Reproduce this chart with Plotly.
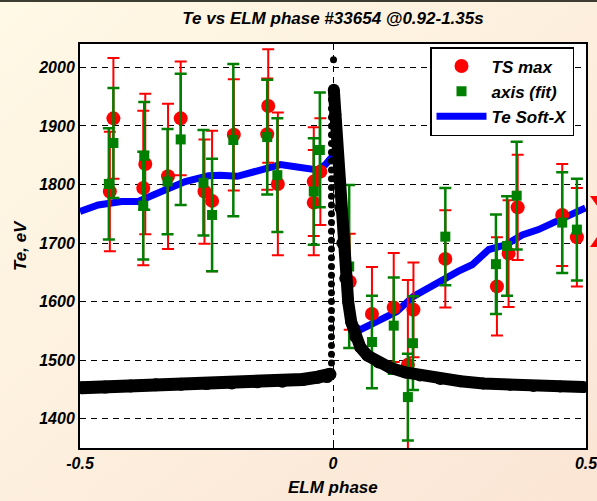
import base64
import plotly.graph_objects as go

# ---------------- data ----------------
ts_x = [-0.441, -0.434, -0.371, -0.375, -0.326, -0.301, -0.254, -0.239, -0.196,
        -0.128, -0.130, -0.109, -0.038, -0.038, -0.025, 0.033, 0.077, 0.120,
        0.148, 0.159, 0.222, 0.324, 0.347, 0.365, 0.453, 0.482]
ts_y = [1788, 1913, 1835, 1794, 1814, 1913, 1788, 1772, 1885,
        1934, 1886, 1801, 1805, 1769, 1822, 1634, 1579, 1590,
        1492, 1586, 1673, 1626, 1682, 1761, 1748, 1710]
ts_err = [102, 103, 120, 132, 124, 97, 89, 120, 95,
          97, 95, 122, 93, 90, 91, 82, 80, 93,
          145, 81, 83, 84, 91, 90, 87, 84]

ax_x = [-0.443, -0.434, -0.373, -0.375, -0.327, -0.301, -0.256, -0.239, -0.197,
        -0.130, -0.110, -0.038, -0.026, 0.032, 0.077, 0.120, 0.148, 0.158,
        0.222, 0.322, 0.344, 0.363, 0.453, 0.482]
ax_y = [1801, 1871, 1849, 1764, 1805, 1877, 1803, 1748, 1876,
        1881, 1816, 1788, 1859, 1660, 1531, 1559, 1437, 1529,
        1711, 1664, 1695, 1781, 1735, 1723]
ax_err = [95, 94, 92, 92, 90, 112, 90, 96, 130,
          98, 97, 91, 98, 139, 79, 82, 74, 80,
          83, 85, 85, 92, 86, 87]

sx_x = [-0.500, -0.464, -0.418, -0.385, -0.339, -0.292, -0.246, -0.223, -0.189,
        -0.144, -0.104, -0.071, -0.031, -0.015, -0.001, 0.008, 0.015, 0.024,
        0.030, 0.036, 0.046, 0.054, 0.093, 0.126, 0.159, 0.192, 0.225, 0.248,
        0.275, 0.308, 0.341, 0.374, 0.406, 0.439, 0.472, 0.499]
sx_y = [1754, 1765, 1771, 1771, 1788, 1805, 1815, 1816, 1814,
        1825, 1834, 1830, 1825, 1834, 1848, 1850, 1760, 1640,
        1600, 1568, 1556, 1552, 1569, 1583, 1609, 1626, 1643, 1652,
        1663, 1689, 1697, 1714, 1723, 1737, 1751, 1760]

pre_x = [-0.497, -0.45, -0.40, -0.35, -0.30, -0.25, -0.20, -0.15, -0.10,
         -0.06, -0.03, -0.012, -0.006]
pre_y = [1453, 1454, 1456, 1458, 1459, 1460, 1461, 1463, 1464,
         1467, 1471, 1472, 1476]

col_x = [-0.003] * 32
col_y = [1480, 1495, 1510, 1525, 1540, 1555, 1570, 1585, 1600, 1615, 1630,
         1645, 1660, 1675, 1690, 1705, 1720, 1735, 1750, 1765, 1780, 1795,
         1810, 1825, 1840, 1855, 1870, 1885, 1900, 1915, 1930, 1945]

post_x = [0.0016, 0.0045, 0.0075, 0.0105, 0.0144, 0.0184, 0.0243, 0.030,
          0.036, 0.044, 0.054, 0.068, 0.090, 0.113, 0.143, 0.172, 0.212,
          0.252, 0.297, 0.350, 0.396, 0.449, 0.495]
post_y = [1962, 1920, 1870, 1810, 1760, 1700, 1640, 1600,
          1565, 1540, 1522, 1508, 1496, 1487, 1479, 1474, 1468,
          1464, 1460, 1458, 1456, 1455, 1454]

top_x = [0.001]
top_y = [2013]

y_ticks = [1400, 1500, 1600, 1700, 1800, 1900, 2000]
x_ticks = [-0.5, 0, 0.5]
x_tick_text = ["-0.5", "0", "0.5"]

# ---------------- figure ----------------
FONT = "Liberation Sans, Arial, sans-serif"
W, H = 597, 501
ML, MR, MT, MB = 80, 11, 44, 53
PW, PH = W - ML - MR, H - MT - MB


def px(xp):
    return (xp - ML) / PW


def py(yp):
    return 1 - (yp - MT) / PH


fig = go.Figure()

fig.add_trace(go.Scatter(
    x=sx_x, y=sx_y, mode="lines", name="Te Soft-X",
    line=dict(color="#0000FF", width=7), legendrank=3))

fig.add_trace(go.Scatter(
    x=ts_x, y=ts_y, mode="markers", name="TS max",
    marker=dict(symbol="circle", size=14, color="#FF0000"),
    error_y=dict(type="data", array=ts_err, color="#FF0000", thickness=2, width=6),
    legendrank=1))

fig.add_trace(go.Scatter(
    x=ax_x, y=ax_y, mode="markers", name="axis (fit)",
    marker=dict(symbol="square", size=10, color="#007F00"),
    error_y=dict(type="data", array=ax_err, color="#007F00", thickness=2.5, width=6),
    legendrank=2))

fig.add_trace(go.Scatter(
    x=pre_x, y=pre_y, mode="lines+markers", showlegend=False,
    line=dict(color="black", width=13), marker=dict(color="black", size=13)))
fig.add_trace(go.Scatter(
    x=col_x, y=col_y, mode="markers", showlegend=False,
    marker=dict(color="black", size=7)))
fig.add_trace(go.Scatter(
    x=post_x, y=post_y, mode="lines+markers", showlegend=False,
    line=dict(color="black", width=12), marker=dict(color="black", size=12)))
fig.add_trace(go.Scatter(
    x=top_x, y=top_y, mode="markers", showlegend=False,
    marker=dict(color="black", size=7)))

# background gradient as an inline svg image
svg = ('<svg xmlns="http://www.w3.org/2000/svg" width="597" height="501">'
       '<defs><linearGradient id="g" x1="0" y1="0" x2="1" y2="1">'
       '<stop offset="0" stop-color="#FFF9E6"/>'
       '<stop offset="1" stop-color="#FBE5D5"/>'
       '</linearGradient></defs>'
       '<rect width="597" height="501" fill="url(#g)"/></svg>')
src = "data:image/svg+xml;base64," + base64.b64encode(svg.encode()).decode()

fig.add_layout_image(dict(
    source=src, xref="paper", yref="paper",
    x=px(0), y=py(0), sizex=W / PW, sizey=H / PH,
    xanchor="left", yanchor="top", sizing="stretch", layer="below"))

fig.add_shape(type="rect", xref="paper", yref="paper", x0=0, x1=1, y0=0, y1=1,
              fillcolor="white", line=dict(width=0), layer="below")
fig.add_shape(type="line", xref="paper", yref="paper",
              x0=px(0), x1=px(W), y0=py(1), y1=py(1),
              line=dict(color="#3C3C30", width=2))

# partially visible red glyph at the right edge (drawn as an outline)
xpts = [(590, 196), (604, 196), (615, 212), (626, 196), (640, 196), (622, 221),
        (640, 247), (626, 247), (615, 231), (604, 247), (590, 247), (608, 221)]
path = "M " + " L ".join(f"{px(a):.4f},{py(b):.4f}" for a, b in xpts) + " Z"
fig.add_shape(type="path", xref="paper", yref="paper", path=path,
              fillcolor="#FF0000", line=dict(width=0))

tick_font = dict(family=FONT, size=16, color="black", weight="bold", style="italic")
label_font = dict(family=FONT, size=17, color="black", weight="bold", style="italic")
legend_font = dict(family=FONT, size=17, color="black", weight="bold", style="italic")
title_font = dict(family=FONT, size=17, color="black", weight="bold", style="italic")

axis_common = dict(
    showline=True, linecolor="black", linewidth=2, mirror=True,
    ticks="inside", ticklen=5, tickcolor="black", tickwidth=1,
    showgrid=True, gridcolor="black", gridwidth=1, griddash="6px,5px",
    zeroline=False, tickfont=tick_font, automargin=False,
    ticklabeloverflow="allow")

fig.update_xaxes(range=[-0.5, 0.5], tickvals=x_ticks, ticktext=x_tick_text, **axis_common)
fig.update_yaxes(range=[1350, 2040], tickvals=y_ticks, **axis_common)

fig.add_annotation(text="Te, eV", xref="paper", yref="paper",
                   x=px(20), y=py(246), textangle=-90,
                   showarrow=False, font=label_font, xanchor="center", yanchor="middle")
fig.add_annotation(text="ELM phase", xref="paper", yref="paper",
                   x=px(333), y=py(487), showarrow=False, font=label_font,
                   xanchor="center", yanchor="middle")

fig.update_layout(
    width=W, height=H,
    margin=dict(l=ML, r=MR, t=MT, b=MB),
    paper_bgcolor="#FDF0E0", plot_bgcolor="white",
    title=dict(text="Te vs ELM phase #33654 @0.92-1.35s", x=333 / W, xanchor="center",
               y=1 - 18 / H, yanchor="middle", font=title_font, automargin=False),
    legend=dict(x=px(574), xanchor="right", y=py(47), yanchor="top",
                bgcolor="white", bordercolor="black", borderwidth=1.5,
                font=legend_font, itemwidth=50, tracegroupgap=0),
    showlegend=True,
)

fig.write_html("out.html")
